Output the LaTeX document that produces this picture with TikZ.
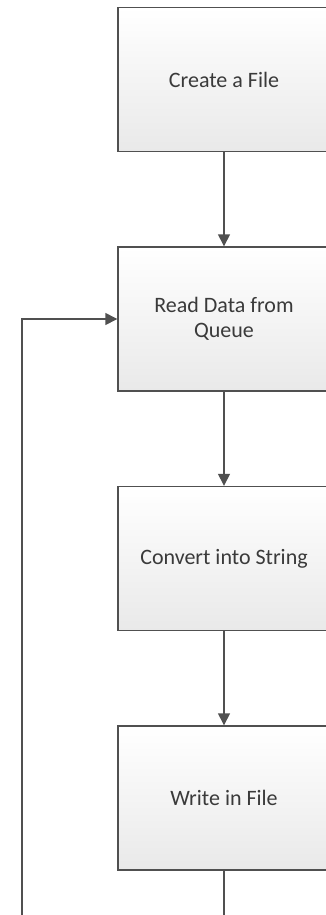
\documentclass[tikz,border=0pt]{standalone}
\usepackage{fontspec}
\setmainfont{Carlito}
\usetikzlibrary{arrows.meta}
\definecolor{boxline}{HTML}{505050}
\definecolor{boxbot}{HTML}{E9E9E9}
\definecolor{textcol}{HTML}{3A3A3A}
\begin{document}
\begin{tikzpicture}[x=1pt,y=1pt,
  stepbox/.style={draw=boxline, line width=1.4pt, top color=white, bottom color=boxbot,
    minimum width=212pt, minimum height=144pt, text=textcol,
    font=\fontsize{22}{25}\selectfont, align=center, inner sep=0pt},
  flow/.style={draw=boxline, line width=1.4pt, -{Triangle[length=12pt,width=12pt]}},
  plainline/.style={draw=boxline, line width=1.4pt}]
\useasboundingbox (0,0) rectangle (326,-915);
\clip (0,0) rectangle (326,-915);
\fill[white] (0,0) rectangle (326,-915);
\node[stepbox] (b1) at (224,-79.5) {Create a File};
\node[stepbox] (b2) at (224,-319) {Read Data from\\Queue};
\node[stepbox] (b3) at (224,-558.5) {Convert into String};
\node[stepbox] (b4) at (224,-798) {Write in File};
\coordinate (endd) at (224,-925);
\coordinate (loopb) at (22,-925);
\coordinate (loopt) at (22,-319);
\draw[flow] (b1) -- (b2);
\draw[flow] (b2) -- (b3);
\draw[flow] (b3) -- (b4);
\draw[plainline] (b4) -- (endd);
\draw[flow] (loopb) -- (loopt) -- (b2.west);
\end{tikzpicture}
\end{document}
